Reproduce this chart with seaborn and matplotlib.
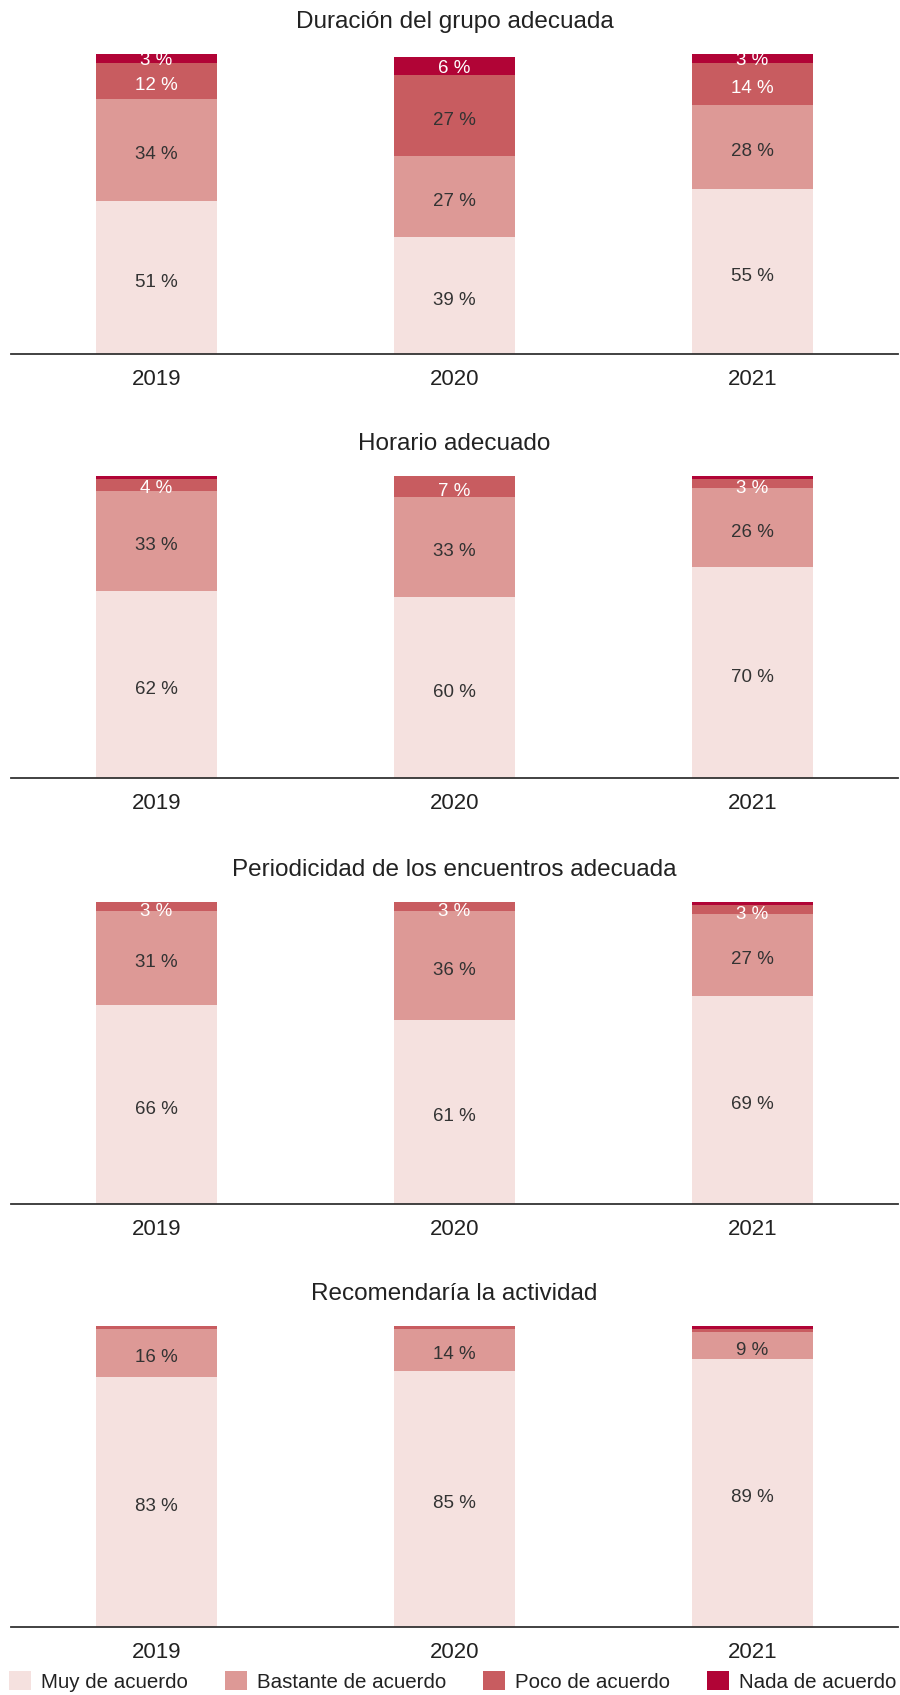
import matplotlib
matplotlib.use("Agg")
import matplotlib.pyplot as plt
from matplotlib.patches import Patch
import seaborn as sns
import pandas as pd

sns.set_theme(style="white")
plt.rcParams["font.family"] = ["Liberation Sans", "DejaVu Sans"]

# Survey data (percent of respondents per answer)
years = ["2019", "2020", "2021"]
titles = [
    "Duración del grupo adecuada",
    "Horario adecuado",
    "Periodicidad de los encuentros adecuada",
    "Recomendaría la actividad",
]
categories = ["Muy de acuerdo", "Bastante de acuerdo", "Poco de acuerdo", "Nada de acuerdo"]

muy = [[51, 39, 55], [62, 60, 70], [66, 61, 69], [83, 85, 89]]
bastante = [[34, 27, 28], [33, 33, 26], [31, 36, 27], [16, 14, 9]]
poco = [[12, 27, 14], [4, 7, 3], [3, 3, 3], [1, 1, 1]]
nada = [[3, 6, 3], [1, 1, 1], [1, 0, 1], [1, 0, 1]]

colors = ["#f5e1df", "#dd9996", "#c85c60", "#b10436"]
dark_text = "#333333"

W, H = 900, 1695
fig = plt.figure(figsize=(W / 100, H / 100), dpi=100)

# pixel positions (top of 100 %, baseline) of each panel
panel_px = [(54, 354), (476, 778), (902, 1204), (1326, 1627)]
left_px, right_px = 11, 898

for p in range(4):
    top, base = panel_px[p]
    ax = fig.add_axes([left_px / W, 1 - base / H, (right_px - left_px) / W, (base - top) / H])
    df = pd.DataFrame({
        "year": years,
        "muy": muy[p],
        "bastante": bastante[p],
        "poco": poco[p],
        "nada": nada[p],
    })
    cols = ["muy", "bastante", "poco", "nada"]
    cum = df[cols].cumsum(axis=1)
    # draw cumulative totals from the top segment down so they stack
    for i in reversed(range(4)):
        sns.barplot(data=cum.assign(year=years), x="year", y=cols[i], color=colors[i],
                    saturation=1, width=0.405, ax=ax, linewidth=0, edgecolor="none",
                    errorbar=None)
    # value labels
    for j in range(3):
        for i in range(4):
            v = df[cols[i]][j]
            if v < 3:
                continue
            lo = cum[cols[i - 1]][j] if i > 0 else 0
            hi = cum[cols[i]][j]
            if i == 3:
                y = (lo + hi) / 2 - 0.8
            elif i == 2 and v <= 4:
                y = hi - 3.3
            else:
                y = (lo + hi) / 2 - 1.6
            tc = "white" if (i >= 2 and v < 20) else dark_text
            ax.text(j, y, f"{v} %", ha="center", va="center", fontsize=13.5, color=tc)
    ax.set_xlim(-0.487, 2.489)
    ax.set_ylim(0, 100)
    ax.set_xlabel("")
    ax.set_ylabel("")
    ax.set_yticks([])
    ax.set_xticks(range(3))
    ax.set_xticklabels(years, fontsize=16, color="#222222")
    ax.tick_params(axis="x", length=0, pad=11)
    for s in ["top", "left", "right"]:
        ax.spines[s].set_visible(False)
    ax.spines["bottom"].set_color("#333333")
    ax.spines["bottom"].set_linewidth(1.3)
    ax.set_title(titles[p], fontsize=17.5, color="#222222", pad=19)
    ax.set_facecolor("none")

handles = [Patch(facecolor=c, edgecolor="none") for c in colors]
fig.legend(handles, categories, loc="lower center", bbox_to_anchor=(0.503, -0.009), ncol=4,
           frameon=False, handlelength=1.05, handleheight=1.05,
           handletextpad=0.5, columnspacing=1.8, labelcolor="#222222",
           prop={"size": 14.8})

fig.savefig("out.png", dpi=100, facecolor="white")
